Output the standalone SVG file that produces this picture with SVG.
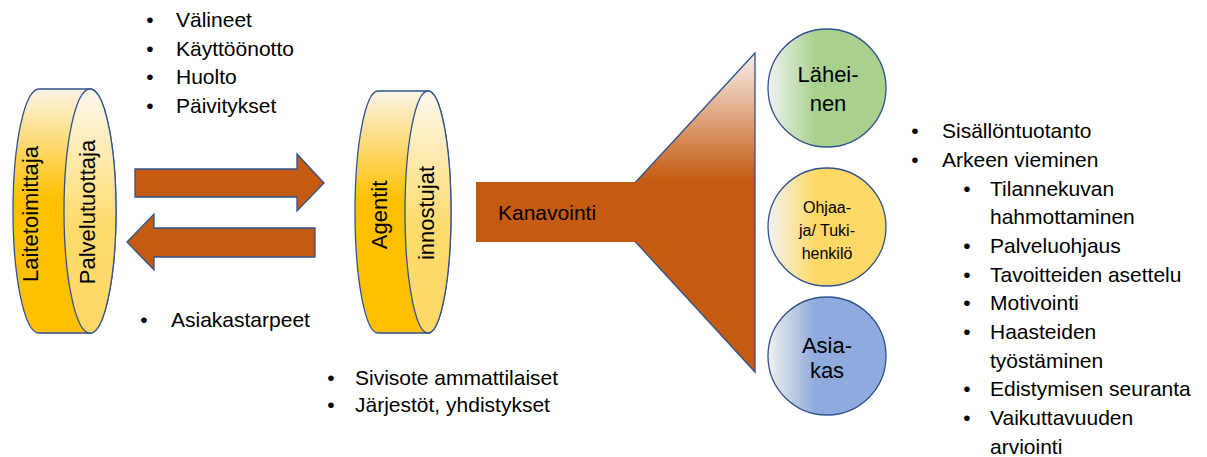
<svg xmlns="http://www.w3.org/2000/svg" width="1207" height="457" viewBox="0 0 1207 457">
<style>
text{font-family:"Liberation Sans",Arial,sans-serif;fill:#000}
.lst{font-size:21px}
.bul{font-size:21px;text-anchor:middle}
.cyl{font-size:22px;text-anchor:middle;dominant-baseline:central}
.edge{stroke:#2F528F;stroke-width:1.3}
.arr{fill:#C55A11;stroke:#2F528F;stroke-width:1.3}
.ct{text-anchor:middle}
</style>
<defs>
<linearGradient id="gBody" x1="0" y1="0" x2="0" y2="1">
<stop offset="0" stop-color="#FBF4E6"/>
<stop offset="0.45" stop-color="#FFC000"/>
<stop offset="1" stop-color="#FFC000"/>
</linearGradient>
<linearGradient id="gFace" x1="0" y1="0" x2="0" y2="1">
<stop offset="0" stop-color="#FDF8EE"/>
<stop offset="0.55" stop-color="#FFDB6E"/>
<stop offset="1" stop-color="#FFD966"/>
</linearGradient>
<linearGradient id="gFun" x1="0" y1="0" x2="0" y2="1">
<stop offset="0" stop-color="#F7F1EC"/>
<stop offset="0.4" stop-color="#C55A11"/>
<stop offset="1" stop-color="#C55A11"/>
</linearGradient>
<linearGradient id="gGreen" x1="0" y1="0" x2="1" y2="0">
<stop offset="0" stop-color="#F2F2F2"/>
<stop offset="0.4" stop-color="#A9D18E"/>
<stop offset="1" stop-color="#A9D18E"/>
</linearGradient>
<linearGradient id="gYel" x1="0" y1="0" x2="1" y2="0">
<stop offset="0" stop-color="#F2F2F2"/>
<stop offset="0.4" stop-color="#FFD966"/>
<stop offset="1" stop-color="#FFD966"/>
</linearGradient>
<linearGradient id="gBlue" x1="0" y1="0" x2="1" y2="0">
<stop offset="0" stop-color="#F2F2F2"/>
<stop offset="0.4" stop-color="#8FAADC"/>
<stop offset="1" stop-color="#8FAADC"/>
</linearGradient>
</defs>

<g id="laitetoimittaja">
<path class="edge" fill="url(#gBody)" d="M39 89 L90 89 A26 122 0 0 1 90 333 L39 333 A26 122 0 0 1 39 89 Z"/>
<ellipse class="edge" fill="url(#gFace)" cx="90" cy="211" rx="26" ry="122"/>
<text class="cyl" transform="rotate(-90 30 214)" x="30" y="214">Laitetoimittaja</text>
<text class="cyl" transform="rotate(-90 87 212)" x="87" y="212">Palvelutuottaja</text>
</g>

<g id="agentit">
<path class="edge" fill="url(#gBody)" d="M378 91 L428 91 A23 121 0 0 1 428 333 L378 333 A23 121 0 0 1 378 91 Z"/>
<ellipse class="edge" fill="url(#gFace)" cx="428" cy="212" rx="23" ry="121"/>
<text class="cyl" transform="rotate(-90 379 215)" x="379" y="215">Agentit</text>
<text class="cyl" transform="rotate(-90 426 213)" x="426" y="213">innostujat</text>
</g>

<g id="kanavointi">
<polygon class="edge" fill="url(#gFun)" points="608,212 755,53 755,372"/>
<rect x="476" y="182" width="160.5" height="60" fill="#C55A11"/>
<text x="498" y="220" style="font-size:21px">Kanavointi</text>
</g>

<g id="laheinen">
<circle class="edge" fill="url(#gGreen)" cx="827" cy="88" r="59"/>
<text class="ct" x="828" y="82" style="font-size:22px">Lähei-</text>
<text class="ct" x="828" y="111" style="font-size:22px">nen</text>
</g>

<g id="ohjaaja">
<circle class="edge" fill="url(#gYel)" cx="827" cy="227" r="59"/>
<text class="ct" x="827" y="213" style="font-size:16px">Ohjaa-</text>
<text class="ct" x="827" y="236" style="font-size:16px">ja/ Tuki-</text>
<text class="ct" x="827" y="259" style="font-size:16px">henkilö</text>
</g>

<g id="asiakas">
<circle class="edge" fill="url(#gBlue)" cx="827" cy="356" r="59"/>
<text class="ct" x="827" y="353" style="font-size:22px">Asia-</text>
<text class="ct" x="827" y="378" style="font-size:22px">kas</text>
</g>

<g id="connectors">
<polygon class="arr" points="135,169 297,169 297,154 324,183 297,211 297,197 135,197"/>
<polygon class="arr" points="127,242 154,214 154,228 315,228 315,257 154,257 154,270"/>
</g>

<g id="list-top">
<text class="bul" x="150" y="27">•</text><text class="lst" x="176" y="27">Välineet</text>
<text class="bul" x="150" y="56">•</text><text class="lst" x="176" y="56">Käyttöönotto</text>
<text class="bul" x="150" y="84">•</text><text class="lst" x="176" y="84">Huolto</text>
<text class="bul" x="150" y="113">•</text><text class="lst" x="176" y="113">Päivitykset</text>
</g>

<g id="list-asiakastarpeet">
<text class="bul" x="144" y="327">•</text><text class="lst" x="171" y="327">Asiakastarpeet</text>
</g>

<g id="list-sivisote">
<text class="bul" x="331" y="385">•</text><text class="lst" x="355" y="385">Sivisote ammattilaiset</text>
<text class="bul" x="331" y="412">•</text><text class="lst" x="355" y="412">Järjestöt, yhdistykset</text>
</g>

<g id="list-right">
<text class="bul" x="915" y="138">•</text><text class="lst" x="942" y="138">Sisällöntuotanto</text>
<text class="bul" x="915" y="167">•</text><text class="lst" x="942" y="167">Arkeen vieminen</text>
<text class="bul" x="967" y="196">•</text><text class="lst" x="990" y="196">Tilannekuvan</text>
<text class="lst" x="990" y="224">hahmottaminen</text>
<text class="bul" x="967" y="253">•</text><text class="lst" x="990" y="253">Palveluohjaus</text>
<text class="bul" x="967" y="282">•</text><text class="lst" x="990" y="282">Tavoitteiden asettelu</text>
<text class="bul" x="967" y="310">•</text><text class="lst" x="990" y="310">Motivointi</text>
<text class="bul" x="967" y="339">•</text><text class="lst" x="990" y="339">Haasteiden</text>
<text class="lst" x="990" y="368">työstäminen</text>
<text class="bul" x="967" y="396">•</text><text class="lst" x="990" y="396">Edistymisen seuranta</text>
<text class="bul" x="967" y="425">•</text><text class="lst" x="990" y="425">Vaikuttavuuden</text>
<text class="lst" x="990" y="454">arviointi</text>
</g>
</svg>
